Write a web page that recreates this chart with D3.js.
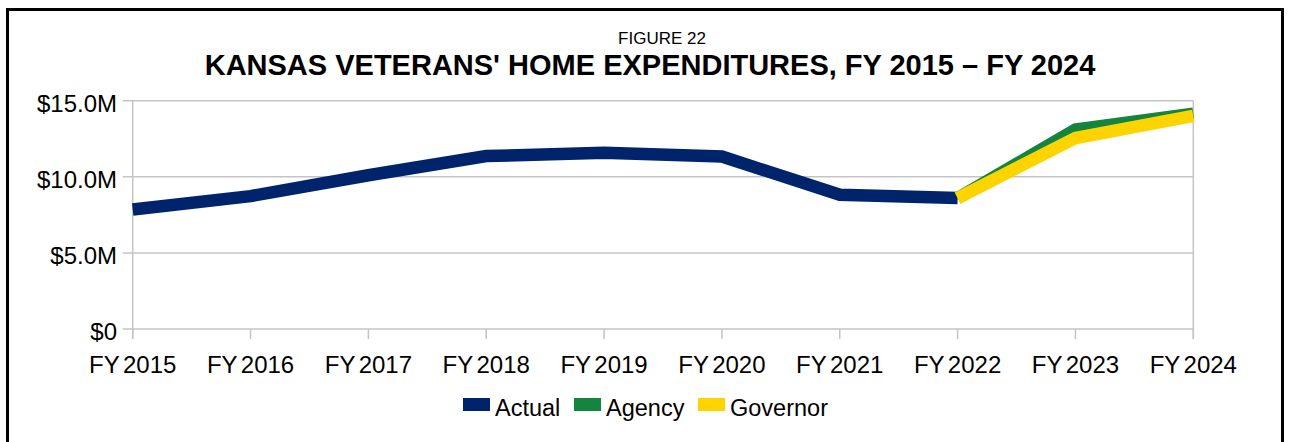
<!DOCTYPE html>
<html>
<head>
<meta charset="utf-8">
<script src="https://cdn.jsdelivr.net/npm/d3@7"></script>
<style>
  html, body { margin: 0; padding: 0; background: #fff; }
  svg { display: block; }
  text { font-family: "Liberation Sans", Arial, sans-serif; fill: #000; }
</style>
</head>
<body>
<svg id="chart" width="1289" height="442"></svg>
<script>
const categories = ["FY 2015","FY 2016","FY 2017","FY 2018","FY 2019","FY 2020","FY 2021","FY 2022","FY 2023","FY 2024"];
const actual   = [7.85, 8.73, 10.1, 11.36, 11.58, 11.33, 8.82, 8.6, null, null];
const agency   = [null, null, null, null, null, null, null, 8.6, 13.1, 14.15];
const governor = [null, null, null, null, null, null, null, 8.6, 12.55, 14.0];
const yTicks = [0, 5, 10, 15];
const yTickLabels = ["$0", "$5.0M", "$10.0M", "$15.0M"];
const seriesNames = ["Actual", "Agency", "Governor"];
const seriesColors = ["#00246b", "#14843f", "#fdd400"];
const titleSmall = "FIGURE 22";
const titleMain = "KANSAS VETERANS' HOME EXPENDITURES, FY 2015 \u2013 FY 2024";

(function () {
const svg = d3.select("#chart");
const pLeft = 132.7, pRight = 1193.3, pTop = 100.7, pBottom = 329;

// frame
svg.append("rect").attr("x", 7.5).attr("y", 9.5).attr("width", 1275).attr("height", 600)
  .attr("fill", "none").attr("stroke", "#000").attr("stroke-width", 3);

// titles
svg.append("text").attr("x", 662).attr("y", 44).attr("text-anchor", "middle")
  .style("font-size", "17px").text(titleSmall);
svg.append("text").attr("x", 650).attr("y", 75).attr("text-anchor", "middle")
  .style("font-size", "29px").style("font-weight", "bold").text(titleMain);

const x = d3.scalePoint().domain(categories).range([pLeft, pRight]).padding(0);
const y = d3.scaleLinear().domain([0, 15]).range([pBottom, pTop]);

const grid = "#c4c4c4";
svg.append("g").selectAll("line").data(yTicks).join("line")
  .attr("x1", pLeft - 10).attr("x2", pRight)
  .attr("y1", d => y(d)).attr("y2", d => y(d))
  .attr("stroke", grid).attr("stroke-width", 1.5);
svg.append("line").attr("x1", pLeft).attr("x2", pLeft).attr("y1", pTop).attr("y2", pBottom + 10)
  .attr("stroke", grid).attr("stroke-width", 1.5);
svg.append("line").attr("x1", pRight).attr("x2", pRight).attr("y1", pTop).attr("y2", pBottom + 10)
  .attr("stroke", grid).attr("stroke-width", 1.5);
svg.append("g").selectAll("line").data(categories).join("line")
  .attr("x1", d => x(d)).attr("x2", d => x(d)).attr("y1", pBottom).attr("y2", pBottom + 10)
  .attr("stroke", grid).attr("stroke-width", 1.5);

svg.append("g").selectAll("text").data(yTicks).join("text")
  .attr("x", 117).attr("y", d => y(d) + 11).attr("text-anchor", "end")
  .style("font-size", "24px").text((d, i) => yTickLabels[i]);
svg.append("g").selectAll("text").data(categories).join("text")
  .attr("x", d => x(d)).attr("y", 373).attr("text-anchor", "middle")
  .style("font-size", "24px").style("word-spacing", "-3px").text(d => d);

const line = d3.line().defined(d => d.v != null).x(d => x(d.c)).y(d => y(d.v));
[actual, agency, governor].forEach((arr, i) => {
  const pts = categories.map((c, j) => ({c, v: arr[j]}));
  svg.append("path").datum(pts).attr("d", line)
    .attr("fill", "none").attr("stroke", seriesColors[i]).attr("stroke-width", 12.5)
    .attr("stroke-linejoin", "miter").attr("stroke-linecap", "butt");
});

const legendX = [463, 574, 698];
const lg = svg.append("g");
seriesNames.forEach((n, i) => {
  lg.append("rect").attr("x", legendX[i]).attr("y", 398).attr("width", 27).attr("height", 13)
    .attr("fill", seriesColors[i]);
  lg.append("text").attr("x", legendX[i] + 32).attr("y", 416).style("font-size", "23.5px").text(n);
});
})();
</script>
</body>
</html>
